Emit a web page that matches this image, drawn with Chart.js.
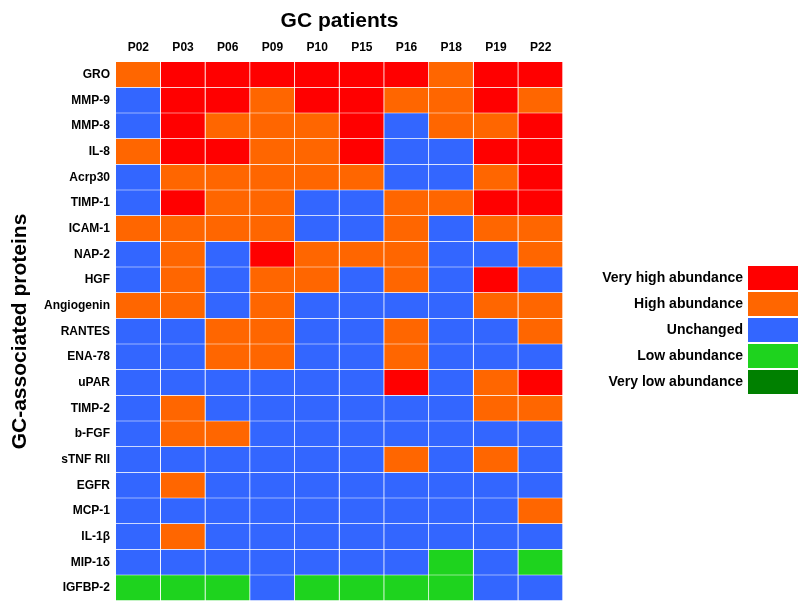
<!DOCTYPE html>
<html>
<head>
<meta charset="utf-8">
<script src="https://cdn.jsdelivr.net/npm/chart.js@4"></script>
<style>
  body { margin: 0; background: #fff; overflow: hidden; }
  #wrap { position: relative; width: 798px; height: 601px; }
  #mainBox { position: absolute; left: 0; top: 0; width: 798px; height: 601px; }
  #legendBox { position: absolute; left: 560px; top: 265px; width: 238px; height: 130px; }
</style>
</head>
<body>
<div id="wrap">
  <div id="mainBox"><canvas id="main"></canvas></div>
  <div id="legendBox"><canvas id="legend"></canvas></div>
</div>
<script>
// columns and rows of the heatmap
const patients = ["P02", "P03", "P06", "P09", "P10", "P15", "P16", "P18", "P19", "P22"];
const proteins = ["GRO", "MMP-9", "MMP-8", "IL-8", "Acrp30", "TIMP-1", "ICAM-1", "NAP-2", "HGF",
  "Angiogenin", "RANTES", "ENA-78", "uPAR", "TIMP-2", "b-FGF", "sTNF RII", "EGFR", "MCP-1",
  "IL-1\u03B2", "MIP-1\u03B4", "IGFBP-2"];

// abundance level per protein (row), one value per patient
// 2 = very high, 1 = high, 0 = unchanged, -1 = low, -2 = very low
const levels = [
  [1, 2, 2, 2, 2, 2, 2, 1, 2, 2],
  [0, 2, 2, 1, 2, 2, 1, 1, 2, 1],
  [0, 2, 1, 1, 1, 2, 0, 1, 1, 2],
  [1, 2, 2, 1, 1, 2, 0, 0, 2, 2],
  [0, 1, 1, 1, 1, 1, 0, 0, 1, 2],
  [0, 2, 1, 1, 0, 0, 1, 1, 2, 2],
  [1, 1, 1, 1, 0, 0, 1, 0, 1, 1],
  [0, 1, 0, 2, 1, 1, 1, 0, 0, 1],
  [0, 1, 0, 1, 1, 0, 1, 0, 2, 0],
  [1, 1, 0, 1, 0, 0, 0, 0, 1, 1],
  [0, 0, 1, 1, 0, 0, 1, 0, 0, 1],
  [0, 0, 1, 1, 0, 0, 1, 0, 0, 0],
  [0, 0, 0, 0, 0, 0, 2, 0, 1, 2],
  [0, 1, 0, 0, 0, 0, 0, 0, 1, 1],
  [0, 1, 1, 0, 0, 0, 0, 0, 0, 0],
  [0, 0, 0, 0, 0, 0, 1, 0, 1, 0],
  [0, 1, 0, 0, 0, 0, 0, 0, 0, 0],
  [0, 0, 0, 0, 0, 0, 0, 0, 0, 1],
  [0, 1, 0, 0, 0, 0, 0, 0, 0, 0],
  [0, 0, 0, 0, 0, 0, 0, -1, 0, -1],
  [-1, -1, -1, 0, -1, -1, -1, -1, 0, 0]
];

// legend
const legendLabels = ["Very high abundance", "High abundance", "Unchanged", "Low abundance", "Very low abundance"];
const legendLevels = [2, 1, 0, -1, -2];

const colors = { "2": "#ff0000", "1": "#ff6600", "0": "#3366ff", "-1": "#1ed31e", "-2": "#008000" };
const FONT = "'Liberation Sans', Arial, sans-serif";

// one stacked dataset per patient column, each cell = 1 unit wide
var datasets = patients.map(function (p, c) {
  return {
    label: p,
    data: proteins.map(function () { return 1; }),
    backgroundColor: levels.map(function (row) { return colors[row[c]]; }),
    borderColor: "rgba(255,255,255,0.8)",
    borderWidth: { top: 0, left: 0, right: 1, bottom: 1 },
    borderSkipped: false,
    barPercentage: 1,
    categoryPercentage: 1
  };
});

new Chart(document.getElementById("main"), {
  type: "bar",
  data: { labels: proteins, datasets: datasets },
  options: {
    responsive: true,
    maintainAspectRatio: false,
    animation: false,
    indexAxis: "y",
    layout: { padding: { left: 0, top: 0, right: 235, bottom: 0 } },
    plugins: { legend: { display: false }, tooltip: { enabled: false } },
    scales: {
      x: {
        type: "linear",
        position: "top",
        stacked: true,
        min: 0,
        max: patients.length,
        afterBuildTicks: function (axis) {
          axis.ticks = patients.map(function (p, i) { return { value: i + 0.5 }; });
        },
        afterFit: function (axis) {
          axis.height = 62;
          axis.paddingLeft = 0;
          axis.paddingRight = 0;
        },
        ticks: {
          autoSkip: false,
          maxRotation: 0,
          padding: 7,
          color: "#000",
          font: { family: FONT, size: 12, weight: "bold" },
          callback: function (v, i) { return patients[i]; }
        },
        grid: { display: false, drawTicks: false },
        border: { display: false },
        title: {
          display: true,
          text: "GC patients",
          color: "#000",
          font: { family: FONT, size: 21, weight: "bold" },
          padding: { top: 9, bottom: 4 }
        }
      },
      y: {
        stacked: true,
        afterFit: function (axis) {
          axis.width = 116;
          axis.paddingTop = 0;
          axis.paddingBottom = 0;
        },
        ticks: {
          autoSkip: false,
          padding: 6,
          color: "#000",
          font: { family: FONT, size: 12, weight: "bold" }
        },
        grid: { display: false, drawTicks: false },
        border: { display: false },
        title: {
          display: true,
          text: "GC-associated proteins",
          color: "#000",
          font: { family: FONT, size: 21, weight: "bold" },
          padding: { top: 8, bottom: 0 }
        }
      }
    }
  }
});

new Chart(document.getElementById("legend"), {
  type: "bar",
  data: {
    labels: legendLabels,
    datasets: [{
      data: legendLabels.map(function () { return 1; }),
      backgroundColor: legendLevels.map(function (l) { return colors[l]; }),
      borderWidth: 0,
      barPercentage: 0.93,
      categoryPercentage: 1
    }]
  },
  options: {
    responsive: true,
    maintainAspectRatio: false,
    animation: false,
    indexAxis: "y",
    layout: { padding: 0 },
    plugins: { legend: { display: false }, tooltip: { enabled: false } },
    scales: {
      x: { display: false, min: 0, max: 1 },
      y: {
        afterFit: function (axis) {
          axis.width = 188;
          axis.paddingTop = 0;
          axis.paddingBottom = 0;
        },
        ticks: {
          padding: 5,
          color: "#000",
          font: { family: FONT, size: 14, weight: "bold" }
        },
        grid: { display: false, drawTicks: false },
        border: { display: false }
      }
    }
  }
});
</script>
</body>
</html>
